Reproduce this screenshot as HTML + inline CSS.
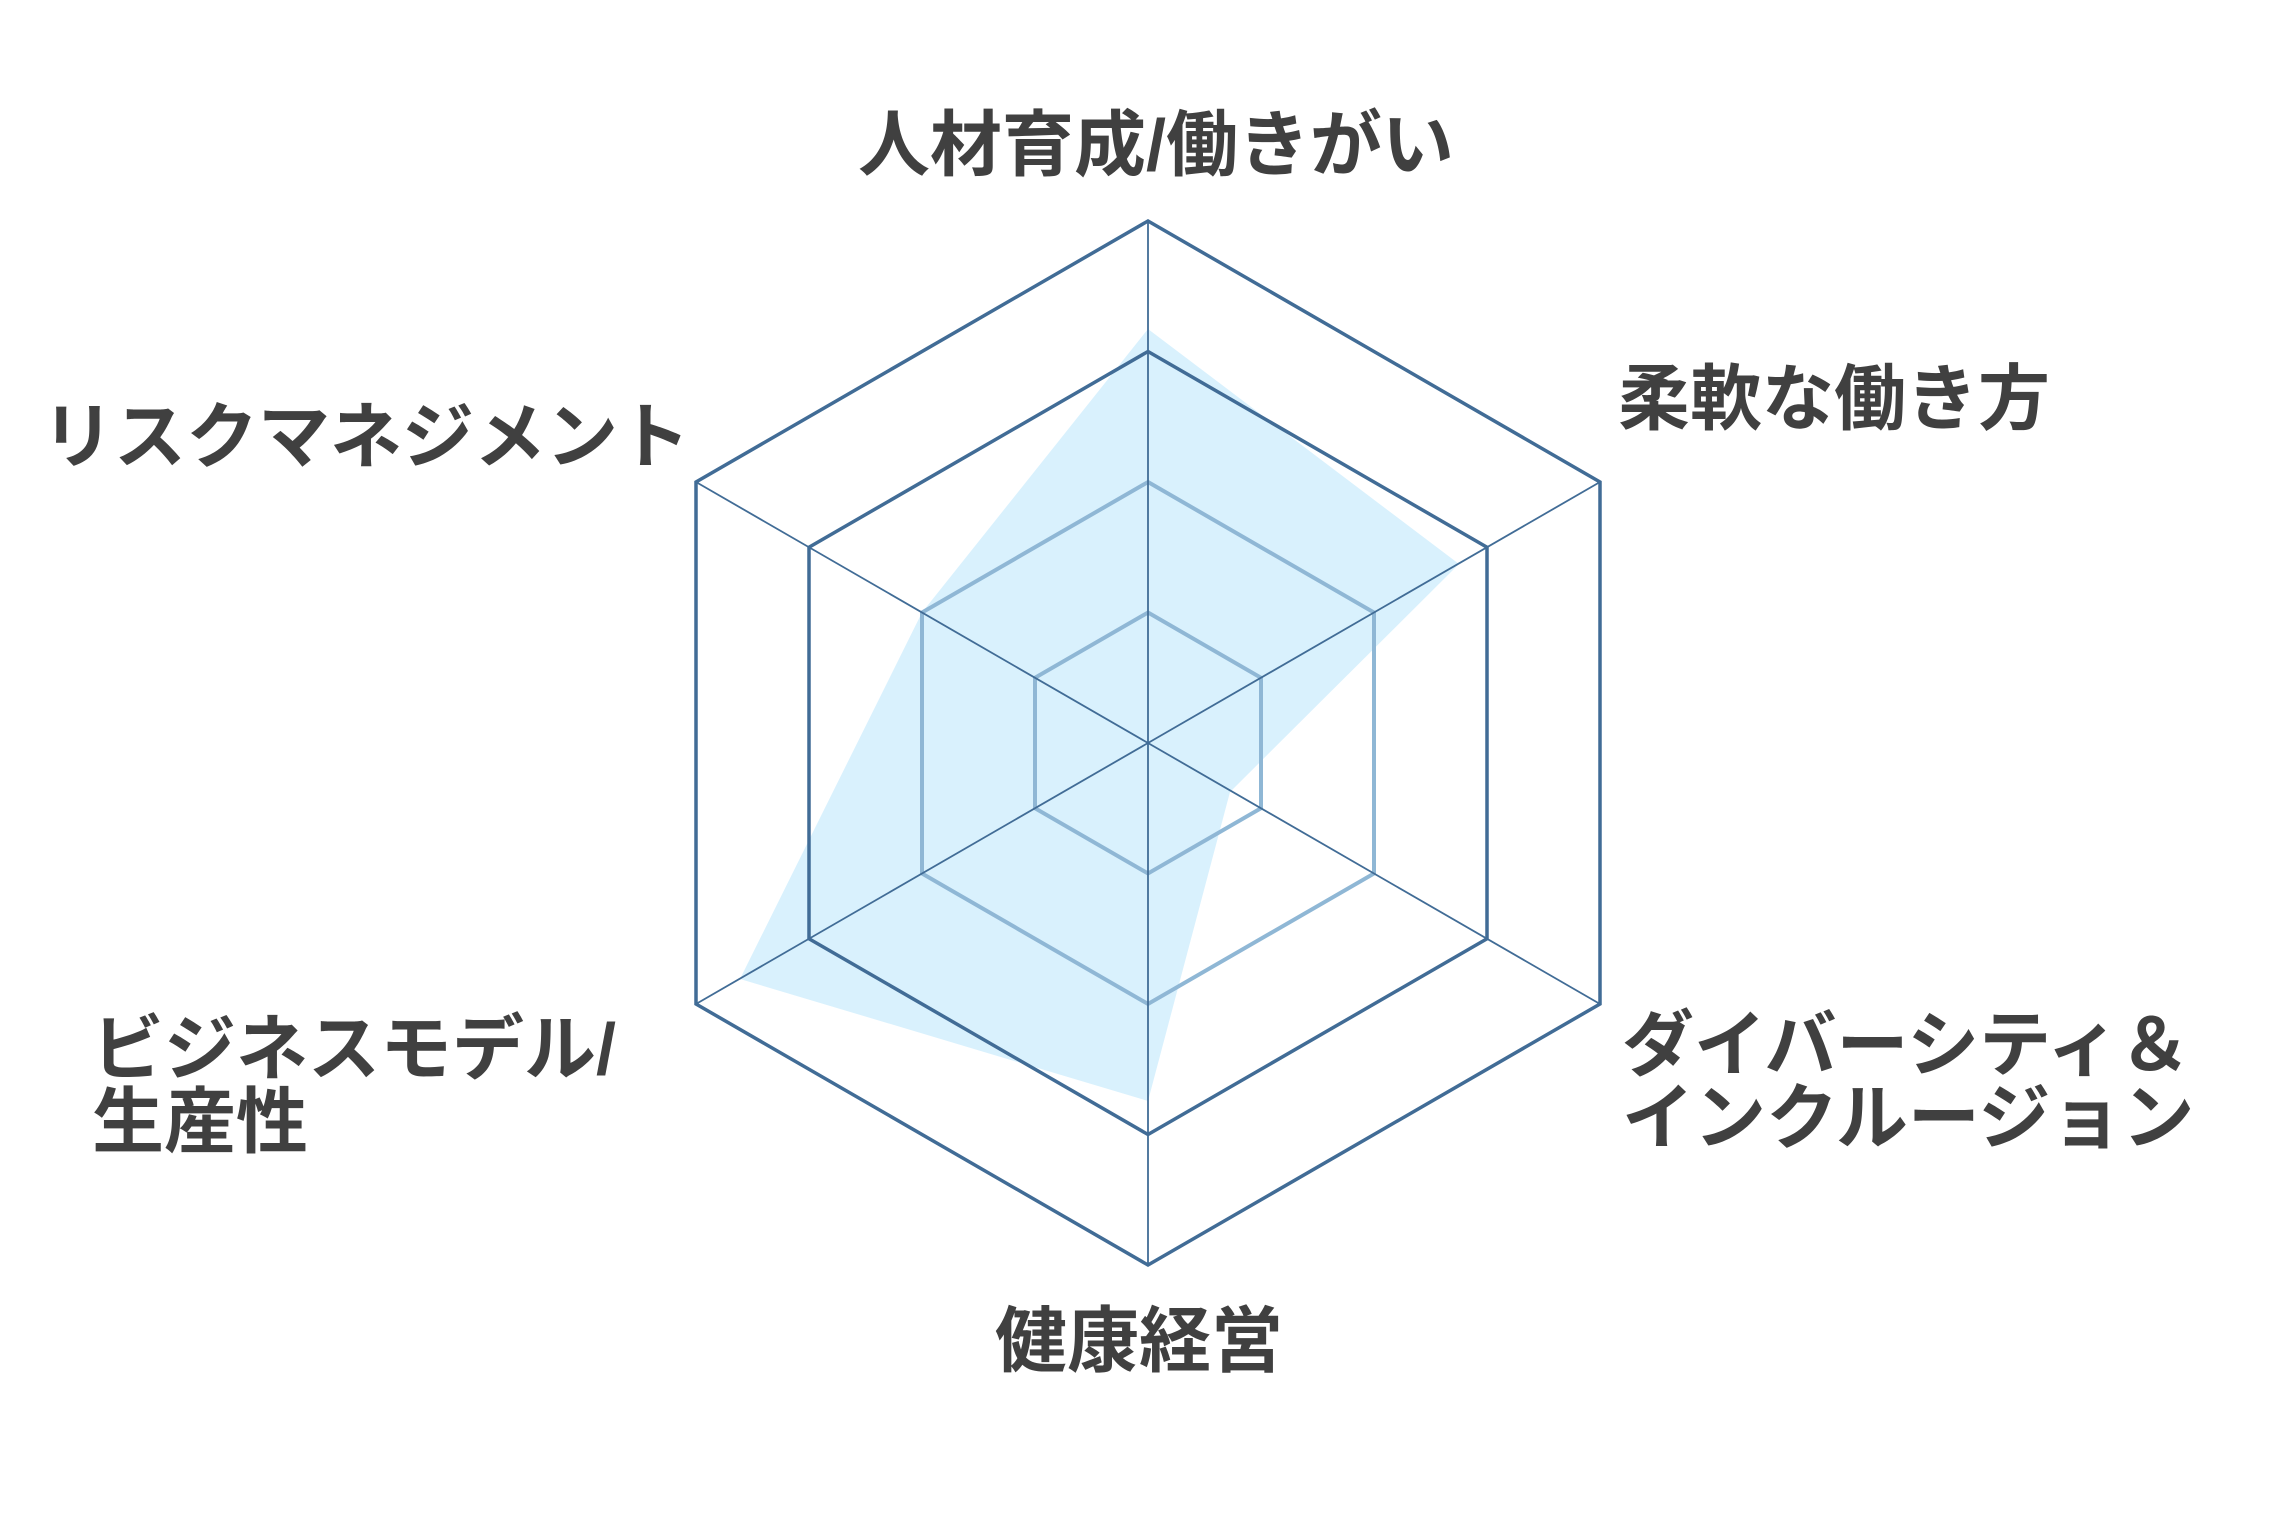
<!DOCTYPE html>
<html><head><meta charset="utf-8"><style>
html,body{margin:0;padding:0;background:#fff;}
svg{display:block;}
text{font-family:"Liberation Sans","Noto Sans CJK JP",sans-serif;font-weight:bold;fill:#404040;font-size:72px;}
</style></head><body>
<svg width="2285" height="1536" viewBox="0 0 2285 1536" xmlns="http://www.w3.org/2000/svg">
<polygon points="1148,329 1459,564 1230,792 1148,1101 740,979 922,612.5" fill="#d9f1fd"/>
<g fill="none" stroke-linejoin="miter">
<polygon points="1148,612.5 1261,677.75 1261,808.25 1148,873.5 1035,808.25 1035,677.75" stroke="#8fb7d5" stroke-width="4"/>
<polygon points="1148,482 1374,612.5 1374,873.5 1148,1004 922,873.5 922,612.5" stroke="#8fb7d5" stroke-width="4"/>
<polygon points="1148,351.5 1487,547.25 1487,938.75 1148,1134.5 809,938.75 809,547.25" stroke="#416c96" stroke-width="3.5"/>
<polygon points="1148,221 1600,482 1600,1004 1148,1265 696,1004 696,482" stroke="#416c96" stroke-width="3.5"/>
<g stroke="#416c96" stroke-width="1.8">
<line x1="1148" y1="221" x2="1148" y2="1265"/>
<line x1="696" y1="482" x2="1600" y2="1004"/>
<line x1="696" y1="1004" x2="1600" y2="482"/>
</g>
</g>
<text x="1156" y="170" text-anchor="middle">人材育成/働きがい</text>
<text x="42" y="462">リスクマネジメント</text>
<text x="1618" y="424">柔軟な働き方</text>
<text x="1622" y="1070">ダイバーシティ＆</text>
<text x="1622" y="1143">インクルージョン</text>
<text x="92" y="1074">ビジネスモデル/</text>
<text x="92" y="1147">生産性</text>
<text x="995" y="1366">健康経営</text>
</svg>
</body></html>
